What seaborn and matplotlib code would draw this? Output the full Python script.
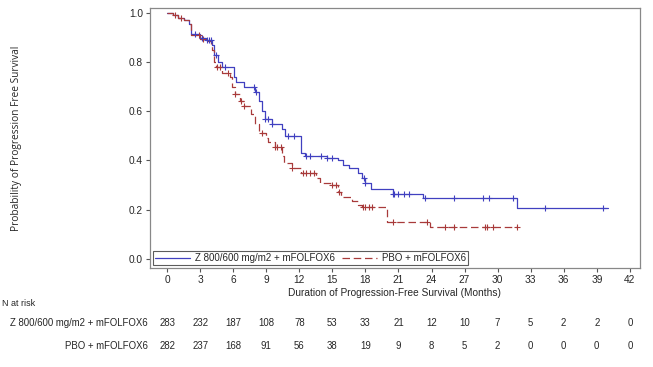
import numpy as np
import pandas as pd
import matplotlib
matplotlib.use("Agg")
import matplotlib.pyplot as plt
import matplotlib.transforms as mtransforms
import seaborn as sns

# Kaplan-Meier step curves (months, survival after step)
z_label = "Z 800/600 mg/m2 + mFOLFOX6"
z_time = [0, 0.5, 1.0, 1.5, 2.0, 2.2, 3.0, 3.5, 4.1, 4.3, 4.6, 5.0, 6.1, 6.3, 7.0, 8.0,
          8.3, 8.6, 8.9, 9.5, 10.4, 10.7, 12.2, 12.5, 14.5, 15.5, 16.0, 16.5, 17.3,
          17.7, 18.0, 18.5, 20.5, 23.2, 31.8, 40.0]
z_surv = [1.0, 0.99, 0.98, 0.97, 0.955, 0.915, 0.90, 0.89, 0.87, 0.83, 0.80, 0.78, 0.74,
          0.72, 0.70, 0.68, 0.64, 0.60, 0.57, 0.55, 0.53, 0.50, 0.43, 0.42, 0.41, 0.40,
          0.38, 0.37, 0.35, 0.33, 0.31, 0.285, 0.265, 0.248, 0.205, 0.205]
z_cens = [2.5, 3.2, 3.6, 3.8, 4.0, 4.4, 5.3, 7.9, 8.1, 8.9, 9.2, 9.5, 11.0, 11.5, 12.6,
          13.0, 14.0, 14.5, 15.0, 17.9, 18.0, 20.5, 20.6, 21.0, 21.5, 22.0, 23.4, 26.0,
          28.7, 29.2, 31.4, 34.3, 39.6]

p_label = "PBO + mFOLFOX6"
p_time = [0, 0.5, 1.0, 1.5, 2.0, 2.2, 3.0, 3.5, 4.0, 4.1, 4.3, 4.4, 5.0, 5.7, 5.9, 6.2,
          6.6, 7.0, 7.6, 8.0, 8.3, 9.0, 9.2, 9.8, 10.4, 10.6, 11.3, 12.2, 13.5, 13.9,
          15.0, 15.5, 15.8, 16.8, 17.3, 17.7, 20.0, 23.9, 31.8]
p_surv = [1.0, 0.99, 0.98, 0.97, 0.955, 0.91, 0.895, 0.885, 0.87, 0.85, 0.80, 0.78,
          0.755, 0.74, 0.70, 0.67, 0.64, 0.62, 0.59, 0.55, 0.51, 0.49, 0.475, 0.455,
          0.42, 0.39, 0.37, 0.35, 0.33, 0.31, 0.30, 0.27, 0.25, 0.235, 0.22, 0.21,
          0.15, 0.13, 0.13]
p_cens = [0.7, 1.3, 2.9, 3.3, 4.5, 4.8, 5.5, 6.2, 6.7, 7.0, 8.6, 9.8, 10.0, 10.3, 11.3,
          12.3, 12.6, 13.0, 13.3, 15.0, 15.3, 15.6, 17.8, 18.0, 18.3, 18.6, 20.5, 23.6,
          25.2, 26.0, 28.9, 29.0, 29.6, 31.8]

risk_times = list(range(0, 43, 3))
z_risk = [283, 232, 187, 108, 78, 53, 33, 21, 12, 10, 7, 5, 2, 2, 0]
p_risk = [282, 237, 168, 91, 56, 38, 19, 9, 8, 5, 2, 0, 0, 0, 0]

blue = "#4040C0"
red = "#A83A3A"

sns.set_style("white")
plt.rcParams['font.family'] = ['Liberation Sans', 'DejaVu Sans']

curves = pd.concat([
    pd.DataFrame({"time": z_time, "surv": z_surv, "arm": z_label}),
    pd.DataFrame({"time": p_time, "surv": p_surv, "arm": p_label}),
])


def step_value(t, times, surv):
    idx = np.searchsorted(times, t, side="right") - 1
    return np.array(surv)[idx]


cens = pd.concat([
    pd.DataFrame({"time": z_cens, "surv": step_value(z_cens, z_time, z_surv), "arm": z_label}),
    pd.DataFrame({"time": p_cens, "surv": step_value(p_cens, p_time, p_surv), "arm": p_label}),
])

fig = plt.figure(figsize=(6.53, 3.67), dpi=100)
ax = fig.add_axes([0.2297, 0.270, 0.750, 0.708])

pal = {z_label: blue, p_label: red}
sns.lineplot(data=curves, x="time", y="surv", hue="arm", style="arm",
             palette=pal, dashes={z_label: "", p_label: (6, 3)},
             drawstyle="steps-post", estimator=None, sort=False, lw=0.9, ax=ax)
for arm, g in cens.groupby("arm"):
    ax.plot(g["time"], g["surv"], ls="none", marker="+", ms=5, mew=0.8,
            color=pal[arm])

ax.set_xlim(-1.55, 42.9)
ax.set_ylim(-0.037, 1.02)
ax.set_xticks(risk_times)
ax.set_yticks(np.arange(0, 1.01, 0.2))
ax.set_yticklabels([f"{v:.1f}" for v in np.arange(0, 1.01, 0.2)])
ax.tick_params(axis="both", direction="out", length=3, width=0.8, labelsize=7.3,
               color="#555555", pad=2, bottom=True, left=True)
for s in ax.spines.values():
    s.set_color("#888888")
    s.set_linewidth(0.9)
ax.set_xlabel("Duration of Progression-Free Survival (Months)", fontsize=7.3, labelpad=2)
ax.set_ylabel("Probability of Progression Free Survival", fontsize=7.3, labelpad=0,
              family=['Open Sans', 'DejaVu Sans'])
ax.yaxis.set_label_coords(-0.262, 0.5)

leg = ax.legend(loc="lower left", ncol=2, fontsize=7, frameon=True, fancybox=False,
                borderaxespad=0.3, handlelength=3.6, columnspacing=0.8,
                borderpad=0.2, handletextpad=0.5)
leg.get_frame().set_edgecolor("#333333")
leg.get_frame().set_linewidth(0.8)

trans = mtransforms.blended_transform_factory(ax.transData, fig.transFigure)
fig.text(0.003, 1 - 303 / 367, "N at risk", fontsize=6.5, va="center", ha="left")
row_y = [1 - 323 / 367, 1 - 346 / 367]
for label, vals, y in [(z_label, z_risk, row_y[0]), (p_label, p_risk, row_y[1])]:
    fig.text(148 / 653, y, label, fontsize=6.9, ha="right", va="center")
    for t, v in zip(risk_times, vals):
        ax.text(t, y, str(v), transform=trans, fontsize=6.9, ha="center", va="center",
                clip_on=False)

fig.savefig("out.png", dpi=100)
